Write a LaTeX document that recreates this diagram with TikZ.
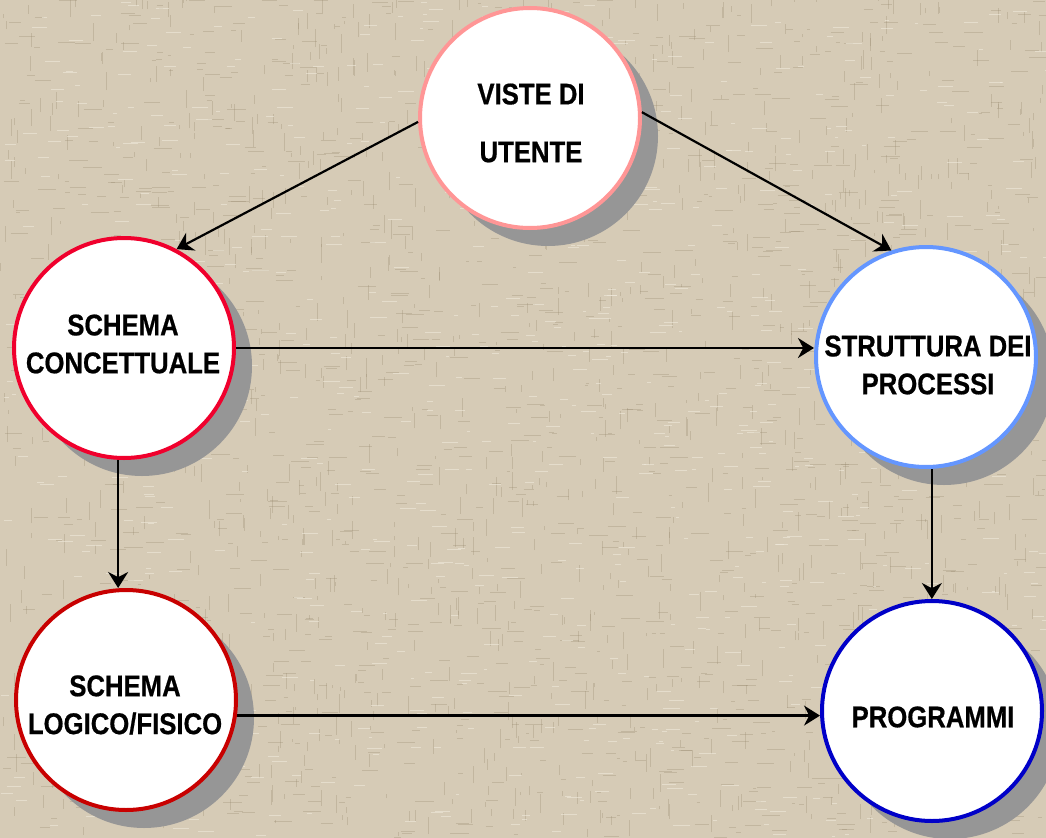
\documentclass[tikz,border=0pt]{standalone}
\usepackage{fontspec}
\newfontfamily\labelfont[FakeStretch=0.86, BoldFeatures={FakeBold=0.6}]{Liberation Sans}
\usetikzlibrary{arrows.meta,shadows,calc}
\definecolor{bgtan}{RGB}{214,203,182}
\definecolor{texdark}{RGB}{150,134,108}
\definecolor{texlight}{RGB}{240,234,220}
\definecolor{shadowgray}{RGB}{150,150,150}
\definecolor{cpink}{RGB}{255,150,150}
\definecolor{cred}{RGB}{240,0,45}
\definecolor{cblue}{RGB}{100,150,255}
\definecolor{cdarkred}{RGB}{200,0,0}
\definecolor{cnavy}{RGB}{0,0,200}
\tikzset{
  bubble/.style={circle, minimum size=220bp, inner sep=0pt, line width=4bp, fill=white,
    general shadow={shadow xshift=18bp, shadow yshift=-18bp, fill=shadowgray}},
  lbl/.style={inner sep=0pt, align=center, text=black,
    font=\labelfont\bfseries\fontsize{30}{38}\selectfont},
  flow/.style={line width=2.2bp, draw=black, -{Stealth[length=16bp,width=20bp]}}
}
\begin{document}
\begin{tikzpicture}[x=1bp,y=1bp]
\fill[bgtan] (0,0) rectangle (1046,-838);
\useasboundingbox (0,0) rectangle (1046,-838);
\pgfmathsetseed{4711}
\foreach \i in {1,...,1200}{
  \pgfmathsetmacro{\xa}{rnd*1046}
  \pgfmathsetmacro{\ya}{-rnd*838}
  \pgfmathsetmacro{\la}{3+rnd*16}
  \draw[texdark, line width=1bp, opacity=0.3] (\xa,\ya) -- ++(\la,0);
}
\foreach \i in {1,...,1200}{
  \pgfmathsetmacro{\xa}{rnd*1046}
  \pgfmathsetmacro{\ya}{-rnd*838}
  \pgfmathsetmacro{\la}{3+rnd*16}
  \draw[texdark, line width=1bp, opacity=0.3] (\xa,\ya) -- ++(0,\la);
}
\foreach \i in {1,...,800}{
  \pgfmathsetmacro{\xa}{rnd*1046}
  \pgfmathsetmacro{\ya}{-rnd*838}
  \pgfmathsetmacro{\la}{3+rnd*14}
  \draw[texlight, line width=1bp, opacity=0.6] (\xa,\ya) -- ++(\la,0);
}

\node[bubble, draw=cpink]    (vu) at (530,-118) {};
\node[bubble, draw=cred]     (sc) at (124,-348) {};
\node[bubble, draw=cblue]    (sp) at (926,-357) {};
\node[bubble, draw=cdarkred] (sl) at (126,-700) {};
\node[bubble, draw=cnavy]    (pr) at (932,-711) {};

\node[lbl, font=\labelfont\bfseries\fontsize{30}{58}\selectfont] (vut) at (531,-123) {VISTE DI\\UTENTE};
\node[lbl] (sct) at (123,-344) {SCHEMA\\CONCETTUALE};
\node[lbl] (spt) at (928,-365) {STRUTTURA DEI\\PROCESSI};
\node[lbl] (slt) at (125,-705) {SCHEMA\\LOGICO/FISICO};
\node[lbl] (prt) at (933,-717) {PROGRAMMI};

\draw[flow] (vu.182) -- (sc.62);
\draw[flow] (vu.3) -- (sp.108);
\draw[flow] (sc.east) -- (sc.east -| sp.west);
\draw[flow] (sc.267) -- (sc.267 |- sl.north);
\draw[flow] (sp.273) -- (sp.273 |- pr.north);
\draw[flow] (sl.352) -- (sl.352 -| pr.west);
\end{tikzpicture}
\end{document}
